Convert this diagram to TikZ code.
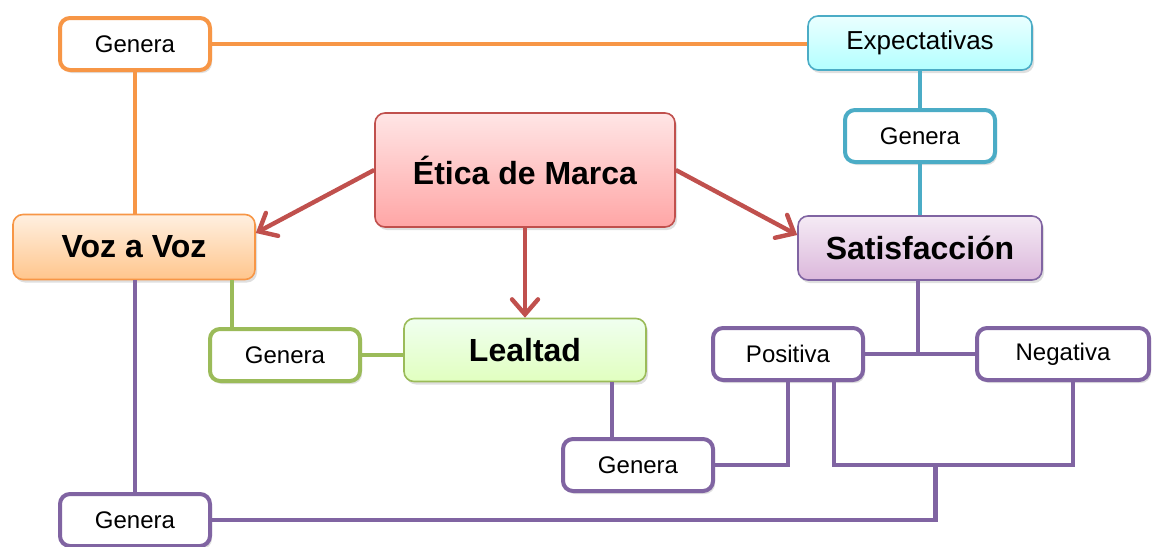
\documentclass[tikz,border=0pt]{standalone}
\usepackage{fontspec}
\setmainfont{Liberation Sans}
\usetikzlibrary{arrows.meta,shadows,calc,scopes}

\definecolor{OrangeLine}{HTML}{F79646}
\definecolor{BlueLine}{HTML}{4BACC6}
\definecolor{RedLine}{HTML}{C0504D}
\definecolor{GreenLine}{HTML}{9BBB59}
\definecolor{PurpleLine}{HTML}{8064A2}

\begin{document}
\begin{tikzpicture}[
    x=0.5pt, y=-0.5pt,
    box/.style={rectangle,rounded corners=5pt,align=center,inner sep=0pt,
        drop shadow={opacity=0.25,shadow xshift=1pt,shadow yshift=-1.5pt}},
    big/.style={box,line width=0.8pt,font=\fontsize{16}{19}\selectfont\bfseries},
    small/.style={box,fill=white,line width=2pt,font=\fontsize{12}{14}\selectfont,
        minimum width=75pt,minimum height=26pt},
    link/.style={line width=2.2pt},
    arrow/.style={link,draw=RedLine,
        -{Straight Barb[length=7.5pt,width=13pt,line width=2.2pt,line cap=round]}},
]
\useasboundingbox (0,0) rectangle (1154,546);

% colored boxes
\node[big,draw=RedLine,top color=red!10,bottom color=red!35,
    minimum width=150pt,minimum height=57pt] (etica) at (525,170) {Ética de Marca};
\node[big,draw=OrangeLine,top color=orange!12,bottom color=orange!45,
    minimum width=121pt,minimum height=32.5pt] (voz) at (134,247) {Voz a Voz};
\node[big,draw=PurpleLine,top color=violet!8,bottom color=violet!28,
    minimum width=122pt,minimum height=32pt] (sat) at (920,248) {Satisfacción};
\node[big,draw=GreenLine,top color=green!6,bottom color=green!30!lime!25,
    minimum width=121pt,minimum height=31.5pt] (lealtad) at (525,350) {Lealtad};
\node[box,line width=0.8pt,draw=BlueLine,top color=cyan!8,bottom color=cyan!30,
    font=\fontsize{13}{15}\selectfont,minimum width=112pt,minimum height=27pt] (exp) at (920,43) {Expectativas};

% white boxes
\node[small,draw=OrangeLine] (g1) at (135,44) {Genera};
\node[small,draw=BlueLine] (g2) at (920,136) {Genera};
\node[small,draw=GreenLine] (gv) at (285,355) {Genera};
\node[small,draw=PurpleLine] (pos) at (788,354) {Positiva};
\node[small,draw=PurpleLine,minimum width=86pt] (neg) at (1063,354) {Negativa};
\node[small,draw=PurpleLine] (gm) at (638,465) {Genera};
\node[small,draw=PurpleLine] (gb) at (135,520) {Genera};

% helper points
\coordinate (gvtop) at ([xshift=12pt]gv.north west);
\coordinate (gmtop) at ([xshift=25.5pt]gm.north west);
\coordinate (posb) at ([xshift=-15.5pt]pos.south east);
\coordinate (negb) at ([xshift=5pt]neg.south);
\coordinate (jn) at ($(posb |- gm.east)!0.425!(negb |- gm.east)$);

% connectors
{[link,draw=OrangeLine]
    \draw (g1.east) -- (g1.east -| exp.west);
    \draw (g1.south) -- (g1.south |- voz.north);
}
{[link,draw=BlueLine]
    \draw (exp.south) -- (g2.north);
    \draw (g2.south) -- (sat.north);
}
{[link,draw=GreenLine]
    \draw (gvtop) -- (gvtop |- voz.south);
    \draw (gv.east) -- (gv.east -| lealtad.west);
}
{[link,draw=PurpleLine]
    \draw ([xshift=-1pt]sat.south) -- ([xshift=-1pt]sat.south |- pos.east);
    \draw (pos.east) -- (neg.west);
    \draw (gmtop) -- (gmtop |- lealtad.south);
    \draw (gm.east) -| (pos.south);
    \draw (posb) |- (jn) -| (negb);
    \draw (jn) |- (gb.east);
    \draw (gb.north |- voz.south) -- (gb.north);
}
{[arrow]
    \draw (etica.west) -- ([yshift=7pt]voz.east);
    \draw (etica.east) -- ([yshift=6.5pt]sat.west);
    \draw (etica.south) -- (lealtad.north);
}
\end{tikzpicture}
\end{document}
